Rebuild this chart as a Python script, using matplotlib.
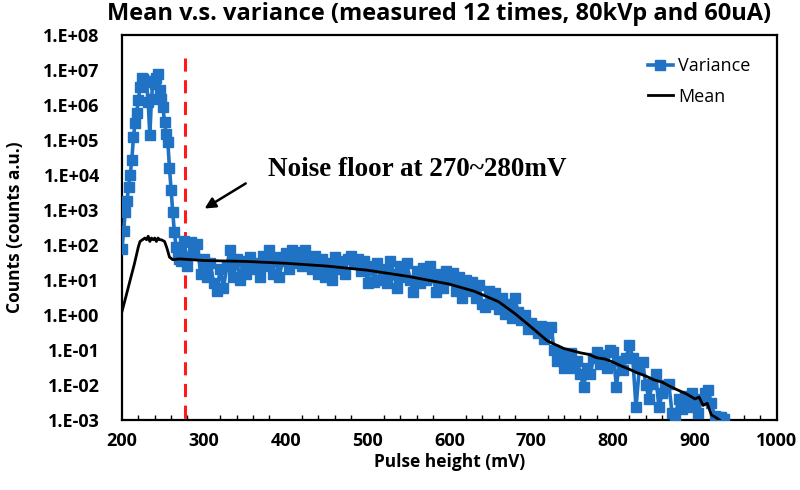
import matplotlib
matplotlib.use("Agg")
import matplotlib.pyplot as plt
from matplotlib.ticker import FixedLocator, MultipleLocator

# ---------------- data ----------------
var_x = [200, 202, 204, 206, 208, 210, 212, 214, 216, 218, 220, 222, 224, 226, 228,
         230, 232, 234, 236, 238, 240, 242, 244, 246, 248, 250, 252, 254, 256, 258,
         260, 262, 264, 266, 268, 270, 272, 274,
         276, 280, 284, 288, 292, 296, 300, 304, 308, 312, 316, 320, 324, 328, 332,
         336, 340, 344, 348, 352, 356, 360, 364, 368, 372, 376, 380, 384, 388, 392,
         396, 400, 404, 408, 412, 416, 420, 424, 428, 432, 436, 440, 444, 448, 452,
         456, 460, 464, 468, 472, 476, 480, 484, 488, 492, 496, 500, 504, 508, 512,
         516, 520, 524, 528, 532, 536, 540, 544, 548, 552, 556, 560, 564, 568, 572,
         576, 580, 584, 588, 592, 596, 600, 604, 608, 612, 616, 620, 624, 628, 632,
         636, 640, 644, 648, 652, 656, 660, 664, 668, 672, 676, 680, 684, 688, 692,
         696, 700, 704, 708, 712, 716, 720, 724, 728, 732, 736, 740, 744, 748, 752,
         756, 760, 764, 768, 772, 776, 780, 784, 788, 792, 796, 800, 804, 808, 812,
         816, 820, 824, 828, 832, 836, 840, 844, 848, 852, 856, 860, 864, 868, 872,
         876, 880, 884, 888, 892, 896, 900, 904, 908, 912, 916, 920, 924, 928, 932, 936]
var_y = [7.8e1, 2.5e2, 9.0e2, 1.8e3, 4.5e3, 1.0e4, 2.7e4, 1.2e5, 3.0e5, 6.0e5, 1.4e6,
         3.2e6, 6.0e6, 5.5e6, 5.0e6, 4.5e6, 1.2e6, 1.4e5, 1.5e6, 5.0e6, 4.0e6, 6.0e6,
         7.5e6, 2.7e6, 1.5e6, 8.7e5, 3.2e5, 1.5e5, 8.7e4, 1.6e4, 3.7e3, 8.7e2, 2.3e2,
         9.0e1, 6.0e1, 4.0e1, 3.5e1, 4.5e1,
         130, 25, 120, 60, 110, 15, 40, 12, 30, 8, 5, 20, 6, 25, 70,
         12, 40, 10, 35, 15, 45, 20, 30, 12, 50, 25, 70, 15, 45, 12,
         35, 60, 20, 70, 30, 65, 25, 70, 40, 20, 50, 15, 40, 12, 30,
         10, 45, 20, 35, 15, 40, 50, 30, 40, 18, 35, 8, 25, 9, 30,
         10, 20, 8, 35, 15, 6, 25, 12, 30, 10, 4.5, 18, 8, 22, 10,
         25, 12, 4.5, 15, 6, 18, 10, 16, 5, 12, 3, 10, 5, 9, 3,
         7, 2, 1.7, 5, 2, 4.3, 1.5, 3, 1.1, 2, 0.8, 3, 1.2, 0.7, 1.0,
         0.4, 0.6, 0.45, 0.3, 0.5, 0.2, 0.3, 0.45, 0.1, 0.05, 0.08, 0.03, 0.06, 0.08, 0.03,
         0.05, 0.02, 0.009, 0.03, 0.02, 0.06, 0.09, 0.04, 0.07, 0.03, 0.1, 0.09, 0.009, 0.05, 0.027,
         0.06, 0.14, 0.06, 0.0023, 0.03, 0.045, 0.01, 0.004, 0.011, 0.02, 0.0023, 0.006, 0.01, 0.011, 0.0016,
         0.0012, 0.004, 0.002, 0.005, 0.0024, 0.006, 0.003, 0.0016, 0.004, 0.006, 0.007, 0.003, 0.0013, 0.0012, 0.0012, 0.0011]

mean_x = [200, 205, 210, 215, 220, 222, 225, 228, 230, 232, 234, 236, 238, 240, 242,
          244, 246, 248, 252, 255, 258, 262, 270, 300, 350, 400, 450, 500, 550, 600,
          630, 660, 680, 700, 720, 740, 760, 770, 780, 790, 800, 810, 820, 830, 840,
          850, 860, 870, 880, 890, 900, 905, 910, 915, 920, 925, 930]
mean_y = [1.26, 3.5, 10, 28, 89, 126, 141, 158, 141, 178, 126, 158, 141, 158, 126,
          158, 141, 141, 126, 80, 45, 38, 40, 36, 34, 30, 25, 19, 12.6, 7.6,
          4.8, 2.4, 1.1, 0.45, 0.18, 0.11, 0.083, 0.075, 0.06, 0.055, 0.045, 0.035, 0.028, 0.022, 0.018,
          0.014, 0.012, 0.009, 0.007, 0.0055, 0.004, 0.0045, 0.0026, 0.003, 0.0014, 0.0012, 0.001]

noise_floor_x = 277
x_ticks = [200, 300, 400, 500, 600, 700, 800, 900, 1000]
y_ticks = [1e-3, 1e-2, 1e-1, 1e0, 1e1, 1e2, 1e3, 1e4, 1e5, 1e6, 1e7, 1e8]
y_ticklabels = ["1.E-03", "1.E-02", "1.E-01", "1.E+00", "1.E+01", "1.E+02",
                "1.E+03", "1.E+04", "1.E+05", "1.E+06", "1.E+07", "1.E+08"]

# ---------------- figure ----------------
plt.rcParams['font.family'] = ['Open Sans', 'DejaVu Sans']
fig = plt.figure(figsize=(8, 4.9), dpi=100)
ax = fig.add_axes([0.1525, 0.1429, 0.8185, 0.7857])

blue = '#1f72c4'
ax.plot(var_x, var_y, color=blue, lw=2.6, marker='s', ms=7, mec=blue, mfc=blue,
        label='Variance', zorder=3)
ax.plot(mean_x, mean_y, color='black', lw=2.0, label='Mean', zorder=4)

ax.plot([noise_floor_x, noise_floor_x], [2.2e7, 1e-3], color='#ff1a1a', lw=2.2,
        dashes=(4.3, 2.8), zorder=2)

ax.set_yscale('log')
ax.set_xlim(200, 1000)
ax.set_ylim(1e-3, 1e8)
ax.set_yticks(y_ticks)
ax.set_yticklabels(y_ticklabels)
ax.yaxis.set_minor_locator(FixedLocator([]))
ax.set_xticks(x_ticks)
ax.xaxis.set_minor_locator(MultipleLocator(20))
ax.tick_params(axis='y', which='both', length=0, pad=16, labelsize=13)
ax.tick_params(axis='x', which='major', length=0, pad=9, labelsize=13)
ax.tick_params(axis='x', which='minor', length=3.5, direction='in', width=1, color='black')
for lab in ax.get_xticklabels() + ax.get_yticklabels():
    lab.set_fontweight('bold')

for s in ax.spines.values():
    s.set_linewidth(1.6)
    s.set_color('black')

ax.set_xlabel('Pulse height (mV)', fontsize=12.5, fontweight='bold', labelpad=2)
ax.set_ylabel('Counts (counts a.u.)', fontsize=12.5, fontweight='bold', labelpad=14)
fig.text(0.549, 1 - 14 / 490, 'Mean v.s. variance (measured 12 times, 80kVp and 60uA)',
         fontsize=17, fontweight='bold', ha='center', va='center')

ax.annotate('', xy=(298, 1000), xytext=(354, 6300),
            arrowprops=dict(arrowstyle='-|>', color='black', lw=1.8, mutation_scale=16))
ax.text(378, 1.4e4, 'Noise floor at 270~280mV', fontsize=19.5, fontweight='bold',
        family=['Liberation Serif', 'DejaVu Serif'], va='center', ha='left')

leg = ax.legend(loc='upper right', bbox_to_anchor=(0.985, 0.985), frameon=False,
                fontsize=13, handlelength=1.4, handletextpad=0.3, labelspacing=0.7)

fig.savefig('out.png', dpi=100)
